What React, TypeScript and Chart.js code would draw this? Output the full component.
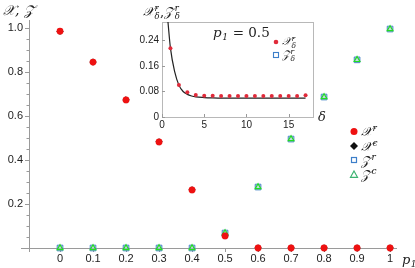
import React, { useEffect, useRef } from "react";
import { Chart, registerables } from "chart.js";
Chart.register(...registerables);

// ---------- main chart data ----------
const P1 = [0, 0.1, 0.2, 0.3, 0.4, 0.5, 0.6, 0.7, 0.8, 0.9, 1.0];
const X_R = [0.985, 0.845, 0.673, 0.482, 0.264, 0.055, 0, 0, 0, 0, 0];
const X_C = [0.985, 0.845, 0.673, 0.482, 0.264, 0.055, 0, 0, 0, 0, 0];
const Z_R = [0, 0, 0, 0, 0, 0.068, 0.277, 0.495, 0.686, 0.855, 0.995];
const Z_C = [0, 0, 0, 0, 0, 0.068, 0.277, 0.495, 0.686, 0.855, 0.995];
const X_TICKS = [0, 0.1, 0.2, 0.3, 0.4, 0.5, 0.6, 0.7, 0.8, 0.9, 1.0];
const X_TICK_LABELS = ["0", "0.1", "0.2", "0.3", "0.4", "0.5", "0.6", "0.7", "0.8", "0.9", "1"];
const Y_TICKS = [0.2, 0.4, 0.6, 0.8, 1.0];
const Y_TICK_LABELS = ["0.2", "0.4", "0.6", "0.8", "1.0"];
const Y_MINOR = [0.05, 0.1, 0.15, 0.25, 0.3, 0.35, 0.45, 0.5, 0.55, 0.65, 0.7, 0.75, 0.85, 0.9, 0.95, 1.0];

// ---------- inset data ----------
const DELTA = [1, 2, 3, 4, 5, 6, 7, 8, 9, 10, 11, 12, 13, 14, 15, 16, 17];
const X_DELTA = [0.216, 0.1, 0.078, 0.069, 0.067, 0.067, 0.066, 0.066, 0.066, 0.066, 0.066, 0.066, 0.066, 0.066, 0.066, 0.066, 0.068];
const CURVE_D = [0.7, 1, 1.5, 2, 2.5, 3, 3.5, 4, 5, 6, 8, 10, 12, 14, 16, 17];
const CURVE_V = [0.3, 0.216, 0.142, 0.1, 0.08, 0.071, 0.066, 0.063, 0.061, 0.06, 0.059, 0.059, 0.059, 0.059, 0.059, 0.059];
const INSET_X_TICKS = [0, 5, 10, 15];
const INSET_X_LABELS = ["0", "5", "10", "15"];
const INSET_Y_TICKS = [0, 0.08, 0.16, 0.24];
const INSET_Y_LABELS = ["0", "0.08", "0.16", "0.24"];

const SERIF = "'DejaVu Serif', 'Liberation Serif', serif";
const SANS = "'Liberation Sans', Arial, sans-serif";

type Seg = { t?: string; size: number; italic?: boolean; sup?: string; sub?: string; supSize?: number };

function segFont(size: number, italic?: boolean) {
  return `${italic ? "italic " : ""}${size}px ${SERIF}`;
}

function drawRich(ctx: CanvasRenderingContext2D, x: number, y: number, segs: Seg[], color = "#222") {
  ctx.save();
  ctx.fillStyle = color;
  ctx.textBaseline = "alphabetic";
  ctx.textAlign = "left";
  let cx = x;
  for (const s of segs) {
    if (s.t) {
      ctx.font = segFont(s.size, s.italic);
      ctx.fillText(s.t, cx, y);
      cx += ctx.measureText(s.t).width;
    }
    if (s.sup || s.sub) {
      const ss = s.supSize || s.size * 0.68;
      ctx.font = segFont(ss, true);
      let w = 0;
      if (s.sup) {
        ctx.fillText(s.sup, cx + 0.5, y - s.size * 0.38);
        w = Math.max(w, ctx.measureText(s.sup).width);
      }
      if (s.sub) {
        ctx.fillText(s.sub, cx + 0.5, y + s.size * 0.25);
        w = Math.max(w, ctx.measureText(s.sub).width);
      }
      cx += w + 1;
    }
  }
  ctx.restore();
}

function circle(ctx: CanvasRenderingContext2D, x: number, y: number, r: number, c: string) {
  ctx.beginPath();
  ctx.arc(x, y, r, 0, Math.PI * 2);
  ctx.fillStyle = c;
  ctx.fill();
}

const mainPlugin = {
  id: "mainDeco",
  beforeDatasetsDraw(chart: any) {
    const ctx: CanvasRenderingContext2D = chart.ctx;
    const xs = chart.scales.x;
    const ys = chart.scales.y;
    const x0 = xs.left;
    const y0 = ys.getPixelForValue(0);
    ctx.save();
    ctx.strokeStyle = "#9a9a9a";
    ctx.lineWidth = 1;
    ctx.beginPath();
    ctx.moveTo(x0 - 8, y0 + 0.5);
    ctx.lineTo(xs.right, y0 + 0.5);
    ctx.moveTo(x0 + 0.5, ys.top);
    ctx.lineTo(x0 + 0.5, y0 + 4);
    for (const v of X_TICKS) {
      const px = Math.round(xs.getPixelForValue(v)) + 0.5;
      ctx.moveTo(px, y0);
      ctx.lineTo(px, y0 + 4);
    }
    for (const v of Y_TICKS) {
      const py = Math.round(ys.getPixelForValue(v)) + 0.5;
      ctx.moveTo(x0 - 4, py);
      ctx.lineTo(x0, py);
    }
    for (const v of Y_MINOR) {
      const py = Math.round(ys.getPixelForValue(v)) + 0.5;
      ctx.moveTo(x0 - 2.5, py);
      ctx.lineTo(x0, py);
    }
    ctx.stroke();
    ctx.restore();
  },
  afterDraw(chart: any) {
    const ctx: CanvasRenderingContext2D = chart.ctx;
    // axis titles
    drawRich(ctx, 3, 15, [{ t: "𝒳, 𝒵", size: 14, italic: true }]);
    drawRich(ctx, 402, 264, [{ t: "p", size: 13, italic: true, sub: "1", supSize: 9 }]);
    // legend
    const lx = 354;
    const rows = [131.5, 146, 160, 174.5];
    circle(ctx, lx, rows[0], 3.5, "#ee1111");
    ctx.save();
    ctx.fillStyle = "#111";
    ctx.beginPath();
    ctx.moveTo(lx, rows[1] - 4);
    ctx.lineTo(lx + 4, rows[1]);
    ctx.lineTo(lx, rows[1] + 4);
    ctx.lineTo(lx - 4, rows[1]);
    ctx.closePath();
    ctx.fill();
    ctx.strokeStyle = "#3d7fc9";
    ctx.lineWidth = 1.2;
    ctx.strokeRect(lx - 2.5, rows[2] - 2.5, 5, 5);
    ctx.strokeStyle = "#3cb371";
    ctx.beginPath();
    ctx.moveTo(lx, rows[3] - 3.5);
    ctx.lineTo(lx + 3.5, rows[3] + 2.8);
    ctx.lineTo(lx - 3.5, rows[3] + 2.8);
    ctx.closePath();
    ctx.stroke();
    ctx.restore();
    const labels: [string, string][] = [["𝒳", "r"], ["𝒳", "c"], ["𝒵", "r"], ["𝒵", "c"]];
    labels.forEach(([a, b], i) => {
      drawRich(ctx, 361, rows[i] + 4.5, [{ t: a, size: 13, italic: true, sup: b, supSize: 9 }]);
    });
  },
};

const insetPlugin = {
  id: "insetDeco",
  beforeDatasetsDraw(chart: any) {
    const ctx: CanvasRenderingContext2D = chart.ctx;
    const a = chart.chartArea;
    const xs = chart.scales.x;
    const ys = chart.scales.y;
    ctx.save();
    ctx.fillStyle = "#ffffff";
    ctx.fillRect(a.left, a.top, a.right - a.left, a.bottom - a.top);
    ctx.strokeStyle = "#b8b8b8";
    ctx.lineWidth = 1;
    ctx.strokeRect(a.left + 0.5, a.top + 0.5, a.right - a.left - 1, a.bottom - a.top);
    ctx.strokeStyle = "#999";
    ctx.beginPath();
    for (const v of INSET_X_TICKS) {
      const px = Math.round(xs.getPixelForValue(v)) + 0.5;
      ctx.moveTo(px, a.bottom);
      ctx.lineTo(px, a.bottom - 3);
    }
    for (const v of INSET_Y_TICKS) {
      const py = Math.round(ys.getPixelForValue(v)) + 0.5;
      ctx.moveTo(a.left, py);
      ctx.lineTo(a.left + 3, py);
    }
    ctx.stroke();
    ctx.restore();
  },
  afterDraw(chart: any) {
    const ctx: CanvasRenderingContext2D = chart.ctx;
    drawRich(ctx, 143, 16, [
      { t: "𝒳", size: 13, italic: true, sup: "r", sub: "δ", supSize: 8.5 },
      { t: ",", size: 13 },
      { t: "𝒵", size: 13, italic: true, sup: "r", sub: "δ", supSize: 8.5 },
    ]);
    drawRich(ctx, 213, 37, [
      { t: "p", size: 13.5, italic: true, sub: "1", supSize: 9 },
      { t: " = 0.5", size: 13.5 },
    ]);
    drawRich(ctx, 318, 121, [{ t: "δ", size: 13, italic: true }]);
    circle(ctx, 276, 42, 2.3, "#e02a3a");
    ctx.save();
    ctx.strokeStyle = "#3d7fc9";
    ctx.lineWidth = 1.1;
    ctx.strokeRect(273.5, 52.5, 5, 5);
    ctx.restore();
    drawRich(ctx, 282, 45, [{ t: "𝒳", size: 11, italic: true, sup: "r", sub: "δ", supSize: 7.5 }]);
    drawRich(ctx, 282, 58, [{ t: "𝒵", size: 11, italic: true, sup: "r", sub: "δ", supSize: 7.5 }]);
  },
};

export default function App() {
  const mainRef = useRef<HTMLCanvasElement>(null);
  const insetRef = useRef<HTMLCanvasElement>(null);

  useEffect(() => {
    document.body.style.margin = "0";
    const pts = (ys: number[]) => P1.map((x, i) => ({ x, y: ys[i] }));
    const main = new Chart(mainRef.current!, {
      type: "scatter",
      data: {
        // first dataset is drawn on top
        datasets: [
          { label: "Xr", data: pts(X_R), pointStyle: "circle", pointRadius: 3.4, backgroundColor: "#ee1111", borderColor: "#ee1111", borderWidth: 0, clip: false } as any,
          { label: "Zc", data: pts(Z_C), pointStyle: "triangle", pointRadius: 3.3, backgroundColor: "rgba(0,0,0,0)", borderColor: "#22dd22", borderWidth: 1.2, clip: false } as any,
          { label: "Zr", data: pts(Z_R), pointStyle: "rect", pointRadius: 4, backgroundColor: "rgba(160,185,215,0.6)", borderColor: "#4a86c8", borderWidth: 1, clip: false } as any,
          { label: "Xc", data: pts(X_C), pointStyle: "rectRot", pointRadius: 3.2, backgroundColor: "#111", borderColor: "#111", clip: false } as any,
        ],
      },
      options: {
        animation: false,
        responsive: false,
        devicePixelRatio: 1,
        layout: { padding: { top: 20, right: 18, left: 0, bottom: 0 } },
        plugins: { legend: { display: false }, tooltip: { enabled: false } },
        scales: {
          x: {
            type: "linear",
            min: -0.094,
            max: 1.021,
            grid: { display: false, drawTicks: false },
            border: { display: false },
            afterFit: (s: any) => { s.height = 20; },
            afterBuildTicks: (s: any) => { s.ticks = X_TICKS.map((v) => ({ value: v })); },
            ticks: {
              padding: 4,
              color: "#222",
              font: { family: SANS, size: 11 },
              callback: (v: any) => X_TICK_LABELS[X_TICKS.findIndex((t) => Math.abs(t - v) < 1e-6)] ?? "",
            },
          },
          y: {
            type: "linear",
            min: 0,
            max: 1.036,
            grid: { display: false, drawTicks: false },
            border: { display: false },
            afterFit: (s: any) => { s.width = 29; },
            afterBuildTicks: (s: any) => { s.ticks = Y_TICKS.map((v) => ({ value: v })); },
            ticks: {
              padding: 6,
              color: "#222",
              font: { family: SANS, size: 11 },
              callback: (v: any) => Y_TICK_LABELS[Y_TICKS.findIndex((t) => Math.abs(t - v) < 1e-6)] ?? "",
            },
          },
        },
      },
      plugins: [mainPlugin],
    });

    const inset = new Chart(insetRef.current!, {
      type: "scatter",
      data: {
        datasets: [
          {
            label: "Xd",
            data: DELTA.map((x, i) => ({ x, y: X_DELTA[i] })),
            pointStyle: "circle",
            pointRadius: 2,
            backgroundColor: "#e02a3a",
            borderWidth: 0,
          } as any,
          {
            label: "curve",
            type: "line",
            data: CURVE_D.map((x, i) => ({ x, y: CURVE_V[i] })),
            borderColor: "#222",
            borderWidth: 1.2,
            pointRadius: 0,
            cubicInterpolationMode: "monotone",
            fill: false,
          } as any,
        ],
      },
      options: {
        animation: false,
        responsive: false,
        devicePixelRatio: 1,
        layout: { padding: { top: 22, right: 101, left: 0, bottom: 0 } },
        plugins: { legend: { display: false }, tooltip: { enabled: false } },
        scales: {
          x: {
            type: "linear",
            min: 0,
            max: 18,
            grid: { display: false, drawTicks: false },
            border: { display: false },
            afterFit: (s: any) => { s.height = 151; },
            afterBuildTicks: (s: any) => { s.ticks = INSET_X_TICKS.map((v) => ({ value: v })); },
            ticks: {
              padding: 2,
              color: "#222",
              font: { family: SANS, size: 10 },
              callback: (v: any) => INSET_X_LABELS[INSET_X_TICKS.findIndex((t) => Math.abs(t - v) < 1e-6)] ?? "",
            },
          },
          y: {
            type: "linear",
            min: 0,
            max: 0.298,
            grid: { display: false, drawTicks: false },
            border: { display: false },
            afterFit: (s: any) => { s.width = 162; },
            afterBuildTicks: (s: any) => { s.ticks = INSET_Y_TICKS.map((v) => ({ value: v })); },
            ticks: {
              padding: 3,
              color: "#222",
              font: { family: SANS, size: 10 },
              callback: (v: any) => INSET_Y_LABELS[INSET_Y_TICKS.findIndex((t) => Math.abs(t - v) < 1e-6)] ?? "",
            },
          },
        },
      },
      plugins: [insetPlugin],
    });

    return () => {
      main.destroy();
      inset.destroy();
    };
  }, []);

  return (
    <div style={{ position: "relative", width: 415, height: 268, background: "#fff" }}>
      <canvas ref={mainRef} width={415} height={268} style={{ position: "absolute", left: 0, top: 0 }} />
      <canvas ref={insetRef} width={415} height={268} style={{ position: "absolute", left: 0, top: 0, pointerEvents: "none" }} />
    </div>
  );
}
